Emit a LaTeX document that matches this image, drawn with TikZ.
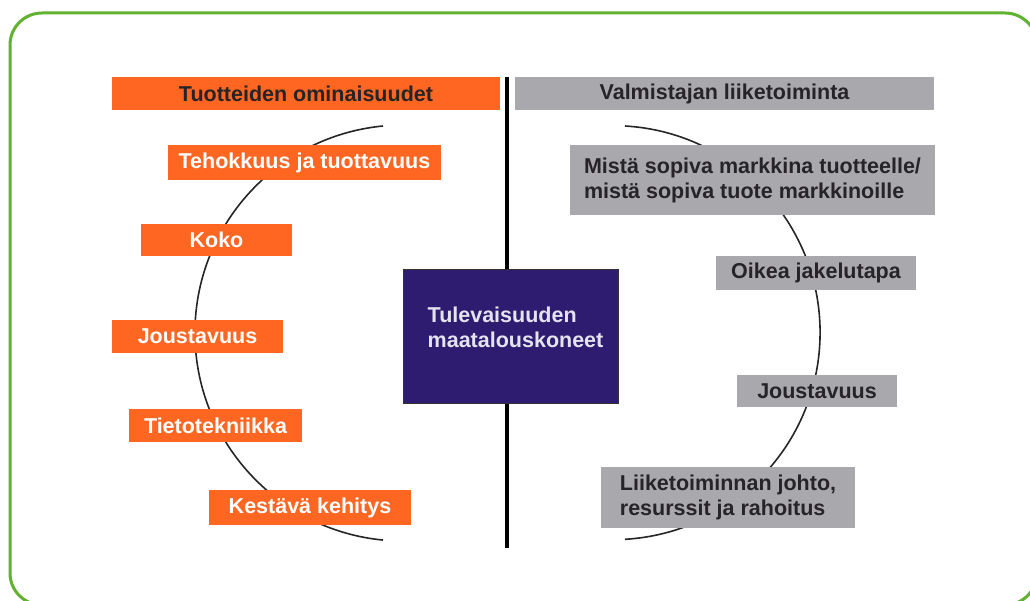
\documentclass[tikz,border=0pt]{standalone}
\usepackage{fontspec}
\setmainfont{Liberation Sans}
\usepackage{tikz}

\definecolor{orangebox}{RGB}{255,102,34}
\definecolor{greybox}{RGB}{169,168,173}
\definecolor{corefill}{RGB}{45,28,112}
\definecolor{framegreen}{RGB}{98,178,50}
\definecolor{darktext}{RGB}{38,36,38}
\definecolor{paletext}{RGB}{228,227,238}

\tikzset{
	boxfont/.style={font=\fontsize{21.5}{25}\selectfont\bfseries},
	basebox/.style={boxfont, inner sep=0pt, align=left},
	orangehead/.style={basebox, fill=orangebox, text=darktext},
	greyhead/.style={basebox, fill=greybox, text=darktext},
	orangeitem/.style={basebox, fill=orangebox, text=white},
	greyitem/.style={basebox, fill=greybox, text=darktext},
	corebox/.style={fill=corefill, draw=black!80, line width=1pt, inner sep=0pt},
	arcline/.style={draw=black!85, line width=1.6pt}
}

\begin{document}
\begin{tikzpicture}[x=1pt, y=-1pt]
\useasboundingbox (0,0) rectangle (1030,601);
\clip (0,0) rectangle (1030,601);
\fill[white] (0,0) rectangle (1030,601);

% frame
\draw[framegreen, line width=3pt, rounded corners=32pt] (10,13) rectangle (1037,605);

% arcs behind the boxes
\coordinate (ltop) at (383,126);
\coordinate (rtop) at (625,126);
\draw[arcline] (ltop) arc[start angle=95.5, end angle=264.5, radius=208pt];
\draw[arcline] (rtop) arc[start angle=86.7, end angle=-86.7, radius=207pt];

% divider
\coordinate (divtop) at (507,77);
\coordinate (divbot) at (507,548);
\draw[line width=4pt] (divtop) -- (divbot);

% headers
\node[orangehead, minimum width=388, minimum height=33] (lhead) at (306,93.5) {Tuotteiden ominaisuudet};
\node[greyhead, minimum width=419, minimum height=33] (rhead) at (724.5,93.5) {Valmistajan liiketoiminta};

% product side
\node[orangeitem, minimum width=273, minimum height=35] (l1) at (304.5,162.5) {Tehokkuus ja tuottavuus};
\node[orangeitem, minimum width=151, minimum height=32] (l2) at (216.5,240) {Koko};
\node[orangeitem, minimum width=171, minimum height=33] (l3) at (197.5,336.5) {Joustavuus};
\node[orangeitem, minimum width=173, minimum height=33] (l4) at (215.5,425.5) {Tietotekniikka};
\node[orangeitem, minimum width=202, minimum height=35] (l5) at (310,507.5) {Kestävä kehitys};

% business side
\node[greyitem, minimum width=365, minimum height=70] (r1) at (752.5,180) {Mistä sopiva markkina tuotteelle/\\mistä sopiva tuote markkinoille};
\node[greyitem, minimum width=200, minimum height=34] (r2) at (816,273) {Oikea jakelutapa};
\node[greyitem, minimum width=160, minimum height=32] (r3) at (817,391) {Joustavuus};
\node[greyitem, minimum width=254, minimum height=61] (r4) at (728,497.5) {Liiketoiminnan johto,\\resurssit ja rahoitus};

% centre
\node[corebox, minimum width=215, minimum height=133] (core) at (510.5,336.5) {};
\node[basebox, text=paletext, anchor=west] (corelabel) at ([xshift=25pt, yshift=9pt]core.west) {Tulevaisuuden\\maatalouskoneet};
\end{tikzpicture}
\end{document}
